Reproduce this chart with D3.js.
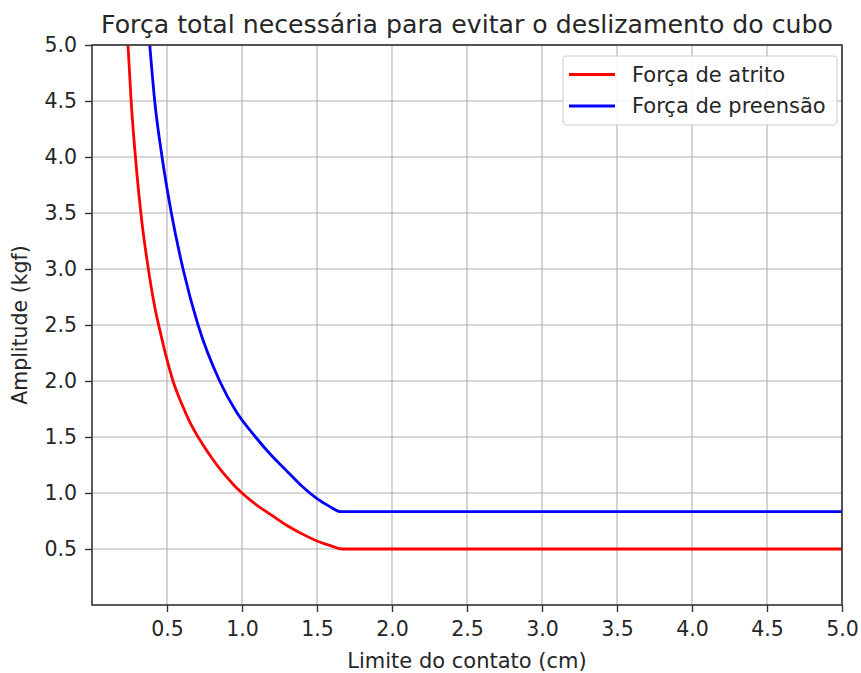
<!DOCTYPE html>
<html>
<head>
<meta charset="utf-8">
<script src="https://cdn.jsdelivr.net/npm/d3@7"></script>
<style>
  html, body { margin: 0; padding: 0; background: #fff; }
  svg { display: block; }
  text { font-family: "DejaVu Sans", sans-serif; fill: #262626; }
</style>
</head>
<body>
<svg id="chart" width="861" height="673"></svg>
<script>
// ---- data ----
const title = "Força total necessária para evitar o deslizamento do cubo";
const xLabel = "Limite do contato (cm)";
const yLabel = "Amplitude (kgf)";
const seriesNames = ["Força de atrito", "Força de preensão"];
const seriesColors = ["#ff0000", "#0000ff"];

const xTicks = [0.5, 1.0, 1.5, 2.0, 2.5, 3.0, 3.5, 4.0, 4.5, 5.0];
const yTicks = [0.5, 1.0, 1.5, 2.0, 2.5, 3.0, 3.5, 4.0, 4.5, 5.0];

// Força de atrito (red)
const xAtrito = [0.24, 0.26, 0.28, 0.30, 0.33, 0.37, 0.42, 0.46, 0.50, 0.54, 0.60, 0.65, 0.73, 0.80, 0.85, 0.90, 0.95, 1.0, 1.1, 1.2, 1.3, 1.4, 1.5, 1.6, 1.67, 2.0, 3.0, 4.0, 5.0];
const fAtrito = [5.0, 4.52, 4.15, 3.84, 3.45, 3.05, 2.65, 2.41, 2.19, 2.0, 1.79, 1.64, 1.45, 1.31, 1.22, 1.14, 1.065, 1.0, 0.89, 0.80, 0.71, 0.635, 0.572, 0.525, 0.5, 0.5, 0.5, 0.5, 0.5];

// Força de preensão (blue)
const xPreensao = [0.385, 0.418, 0.467, 0.529, 0.607, 0.707, 0.851, 0.96, 1.09, 1.2, 1.3, 1.4, 1.5, 1.58, 1.66, 2.0, 3.0, 4.0, 5.0];
const fPreensao = [5.0, 4.5, 4.0, 3.5, 3.0, 2.5, 2.0, 1.73, 1.5, 1.33, 1.195, 1.06, 0.95, 0.883, 0.833, 0.833, 0.833, 0.833, 0.833];

// ---- layout ----
const svg = d3.select("#chart");
const mLeft = 92, mRight = 842, mTop = 45, mBottom = 605;

const x = d3.scaleLinear().domain([0, 5]).range([mLeft, mRight]);
const y = d3.scaleLinear().domain([0, 5]).range([mBottom, mTop]);

// grid
const grid = svg.append("g");
grid.selectAll("line.vx").data(xTicks).enter().append("line")
  .attr("x1", d => x(d)).attr("x2", d => x(d))
  .attr("y1", mTop).attr("y2", mBottom)
  .attr("stroke", "#b0b0b0").attr("stroke-width", 1.1);
grid.selectAll("line.hy").data(yTicks).enter().append("line")
  .attr("x1", mLeft).attr("x2", mRight)
  .attr("y1", d => y(d)).attr("y2", d => y(d))
  .attr("stroke", "#b0b0b0").attr("stroke-width", 1.1);

// clip
svg.append("clipPath").attr("id", "clip").append("rect")
  .attr("x", mLeft).attr("y", mTop).attr("width", mRight - mLeft).attr("height", mBottom - mTop);

const line = d3.line().x(d => x(d[0])).y(d => y(d[1])).curve(d3.curveMonotoneX);
const series = [
  d3.zip(xAtrito, fAtrito),
  d3.zip(xPreensao, fPreensao)
];
svg.append("g").attr("clip-path", "url(#clip)")
  .selectAll("path").data(series).enter().append("path")
  .attr("d", line)
  .attr("fill", "none")
  .attr("stroke", (d, i) => seriesColors[i])
  .attr("stroke-width", 2.8)
  .attr("stroke-linejoin", "round");

// axes
const fmt = d3.format(".1f");
const xAxis = d3.axisBottom(x).tickValues(xTicks).tickFormat(fmt).tickSize(7).tickPadding(9);
const yAxis = d3.axisLeft(y).tickValues(yTicks).tickFormat(fmt).tickSize(7).tickPadding(8);

const gx = svg.append("g").attr("transform", `translate(0,${mBottom})`).call(xAxis);
const gy = svg.append("g").attr("transform", `translate(${mLeft},0)`).call(yAxis);
[gx, gy].forEach(g => {
  g.select(".domain").remove();
  g.selectAll(".tick line").attr("stroke", "#333").attr("stroke-width", 1.4);
  g.selectAll(".tick text").attr("font-size", 20.5).attr("fill", "#333")
    .style("font-family", "DejaVu Sans, sans-serif");
});

// frame (spines)
svg.append("rect")
  .attr("x", mLeft).attr("y", mTop).attr("width", mRight - mLeft).attr("height", mBottom - mTop)
  .attr("fill", "none").attr("stroke", "#333").attr("stroke-width", 1.6);

// title and labels
svg.append("text").attr("x", (mLeft + mRight) / 2).attr("y", 33)
  .attr("text-anchor", "middle").attr("font-size", 25.2).text(title);
svg.append("text").attr("x", (mLeft + mRight) / 2).attr("y", 668)
  .attr("text-anchor", "middle").attr("font-size", 21).text(xLabel);
svg.append("text")
  .attr("transform", `translate(27,${(mTop + mBottom) / 2}) rotate(-90)`)
  .attr("text-anchor", "middle").attr("font-size", 20.5).text(yLabel);

// legend
const lg = svg.append("g");
lg.append("rect").attr("x", 563).attr("y", 56).attr("width", 274).attr("height", 69)
  .attr("rx", 4).attr("fill", "#fff").attr("fill-opacity", 0.85)
  .attr("stroke", "#d0d0d0").attr("stroke-width", 1.2);
seriesNames.forEach((name, i) => {
  const yy = 74.5 + i * 31.5;
  lg.append("line").attr("x1", 569).attr("x2", 615).attr("y1", yy).attr("y2", yy)
    .attr("stroke", seriesColors[i]).attr("stroke-width", 2.8);
  lg.append("text").attr("x", 632).attr("y", yy).attr("dy", "0.35em")
    .attr("font-size", 21).text(name);
});
</script>
</body>
</html>
